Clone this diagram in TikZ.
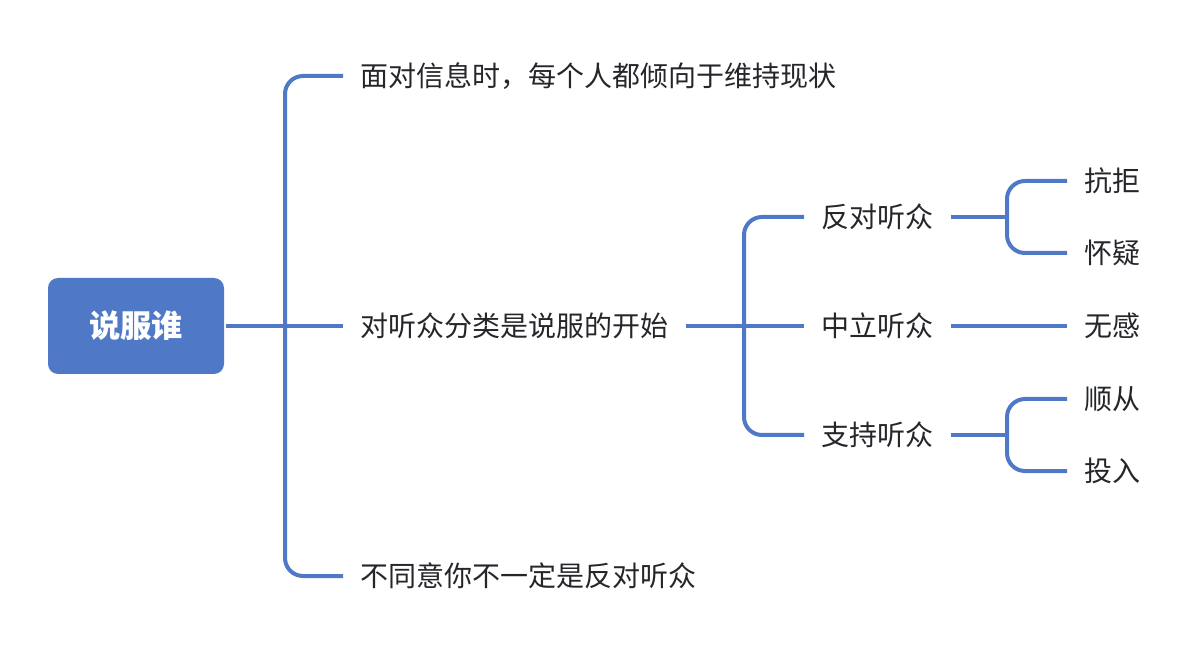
\documentclass[tikz,border=0pt]{standalone}
\usepackage{fontspec}
\usepackage{tikz}
\newfontfamily\cjk{Noto Sans CJK SC}
\definecolor{branch}{RGB}{79,121,199}
\definecolor{ink}{RGB}{36,38,42}

\begin{document}
\begin{tikzpicture}[x=0.75pt,y=-0.75pt,line width=3pt]
    \tikzstyle{root}=[rectangle,rounded corners=7.5pt,fill=branch,text=white,minimum width=132pt,minimum height=72pt,inner sep=0pt,font=\cjk\bfseries\fontsize{23.5pt}{27pt}\selectfont]
    \tikzstyle{topic}=[inner xsep=11.5pt,inner ysep=0pt,text=ink,anchor=west,font=\cjk\fontsize{21pt}{25pt}\selectfont]
    \tikzstyle{link}=[draw=branch,rounded corners=13.5pt]
    \useasboundingbox (0,0) rectangle (1204,652);

    \node[root] (root) at (136,326) {说服谁};
    \foreach \num/\y/\txt in {1/76/面对信息时，每个人都倾向于维持现状, 2/326/对听众分类是说服的开始, 3/576/不同意你不一定是反对听众}
        \node[topic] (T-\num) at (343,\y) {\txt};
    \foreach \num/\y/\txt in {1/217/反对听众, 2/326/中立听众, 3/435/支持听众}
        \node[topic] (A-\num) at (804,\y) {\txt};
    \foreach \num/\y/\txt in {1/181/抗拒, 2/253/怀疑, 3/326/无感, 4/399/顺从, 5/471/投入}
        \node[topic] (L-\num) at (1067,\y) {\txt};

    \coordinate (J-0) at (285,326);
    \coordinate (J-1) at (744,326);
    \coordinate (J-2) at (1007,217);
    \coordinate (J-3) at (1007,435);

    \draw[link] (root.east) -- (T-2.west);
    \foreach \num in {1,3}
        \draw[link] (J-0) |- (T-\num.west);
    \draw[link] (T-2.east) -- (A-2.west);
    \foreach \num in {1,3}
        \draw[link] (J-1) |- (A-\num.west);
    \draw[link] (A-1.east) -- (J-2);
    \foreach \num in {1,2}
        \draw[link] (J-2) |- (L-\num.west);
    \draw[link] (A-2.east) -- (L-3.west);
    \draw[link] (A-3.east) -- (J-3);
    \foreach \num in {4,5}
        \draw[link] (J-3) |- (L-\num.west);
\end{tikzpicture}
\end{document}
